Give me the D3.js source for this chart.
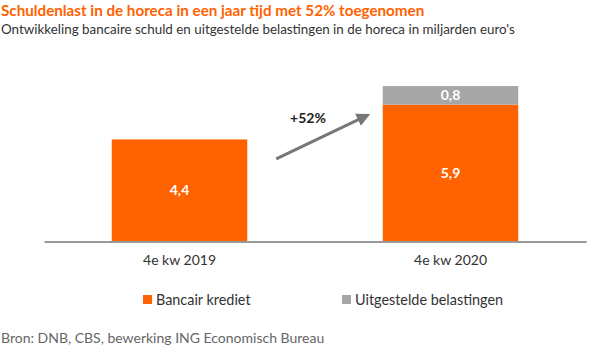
<!DOCTYPE html>
<html><head><meta charset="utf-8">
<script src="https://cdn.jsdelivr.net/npm/d3@7"></script>
<style>body{margin:0;background:#fff}svg{display:block;font-family:Lato,"Open Sans",sans-serif}</style>
</head><body>
<svg id="c" width="600" height="358"></svg>
<script>
const categories = ["4e kw 2019", "4e kw 2020"];
const bancair = [4.4, 5.9];
const uitgesteld = [0, 0.8];
const seriesNames = ["Bancair krediet", "Uitgestelde belastingen"];
const colors = ["#ff6200", "#a6a6a6"];
const annotation = "+52%";

const svg = d3.select("#c");
const x = d3.scaleBand().domain(categories).range([44, 586]).paddingInner(0.5).paddingOuter(0.25);
const y = d3.scaleLinear().domain([0, 7]).range([241.5, 79.1]);

svg.append("text").attr("x", 1).attr("y", 16).attr("fill", "#ff6200")
  .attr("font-size", 15.2).attr("font-weight", "bold").text("Schuldenlast in de horeca in een jaar tijd met 52% toegenomen");
svg.append("text").attr("x", 1).attr("y", 34).attr("fill", "#333")
  .attr("font-size", 13.4).text("Ontwikkeling bancaire schuld en uitgestelde belastingen in de horeca in miljarden euro's");

// bars
const g = svg.append("g");
categories.forEach((c, i) => {
  g.append("rect").attr("x", x(c)).attr("width", x.bandwidth())
    .attr("y", y(bancair[i])).attr("height", y(0) - y(bancair[i])).attr("fill", colors[0]);
  g.append("text").attr("x", x(c) + x.bandwidth() / 2).attr("y", y(bancair[i] / 2) + 5)
    .attr("text-anchor", "middle").attr("fill", "#fff").attr("font-size", 14).attr("font-weight", "bold")
    .text(d3.format(".1f")(bancair[i]).replace(".", ","));
  if (uitgesteld[i] > 0) {
    const top = bancair[i] + uitgesteld[i];
    g.append("rect").attr("x", x(c)).attr("width", x.bandwidth())
      .attr("y", y(top)).attr("height", y(bancair[i]) - y(top)).attr("fill", colors[1]);
    g.append("text").attr("x", x(c) + x.bandwidth() / 2).attr("y", y(bancair[i] + uitgesteld[i] / 2) + 5)
      .attr("text-anchor", "middle").attr("fill", "#fff").attr("font-size", 14).attr("font-weight", "bold")
      .text(d3.format(".1f")(uitgesteld[i]).replace(".", ","));
  }
});

// axis
const ax = svg.append("g").attr("transform", `translate(0,${y(0)})`)
  .call(d3.axisBottom(x).tickSize(0).tickPadding(14));
ax.select(".domain").attr("stroke", "#999").attr("stroke-width", 2);
ax.selectAll("text").attr("font-size", 14).attr("fill", "#333").attr("font-family", "Lato,'Open Sans',sans-serif");

// arrow
const defs = svg.append("defs");
defs.append("marker").attr("id", "ah").attr("viewBox", "0 0 10 10").attr("refX", 8).attr("refY", 5)
  .attr("markerWidth", 4.5).attr("markerHeight", 4.5).attr("orient", "auto")
  .append("path").attr("d", "M0,0L10,5L0,10z").attr("fill", "#777");
const x1 = x(categories[0]) + x.bandwidth() + 29, x2 = x(categories[1]) - 15;
svg.append("line").attr("x1", x1).attr("y1", y(3.56)).attr("x2", x2).attr("y2", y(5.45))
  .attr("stroke", "#777").attr("stroke-width", 3).attr("marker-end", "url(#ah)");
svg.append("text").attr("x", 308).attr("y", 123).attr("text-anchor", "middle")
  .attr("font-size", 14).attr("font-weight", "bold").attr("fill", "#222").text(annotation);

// legend
const lx = [143, 342];
seriesNames.forEach((s, i) => {
  svg.append("rect").attr("x", lx[i]).attr("y", 295).attr("width", 9).attr("height", 9).attr("fill", colors[i]);
  svg.append("text").attr("x", lx[i] + 13).attr("y", 304.5).attr("font-size", 14.4).attr("fill", "#333").text(s);
});

svg.append("text").attr("x", 1).attr("y", 343).attr("font-size", 14).attr("fill", "#666")
  .text("Bron: DNB, CBS, bewerking ING Economisch Bureau");
</script>
</body></html>
